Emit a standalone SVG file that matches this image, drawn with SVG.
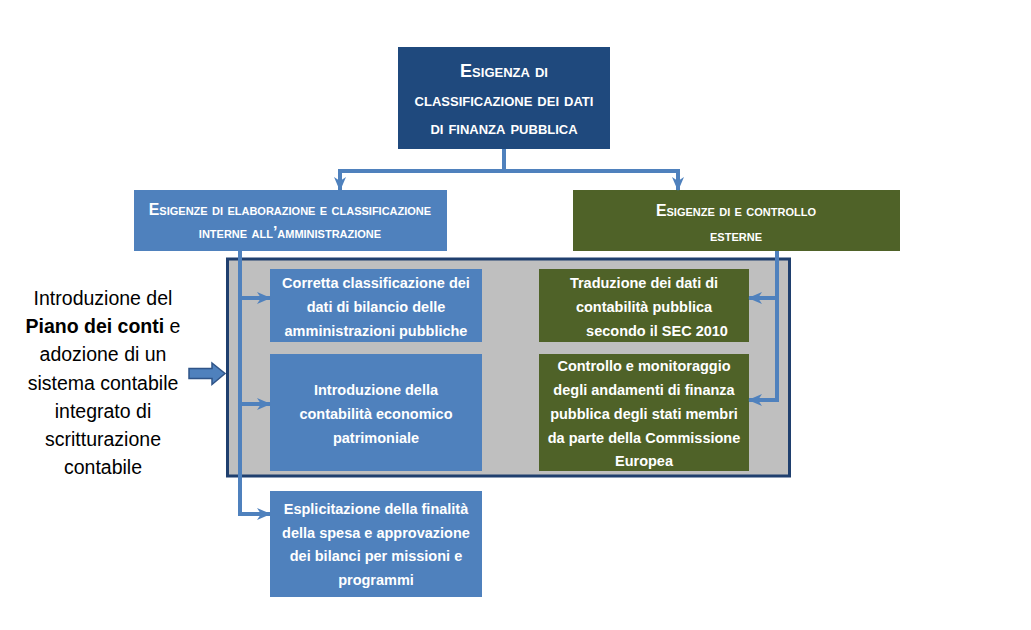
<svg xmlns="http://www.w3.org/2000/svg" width="1031" height="630" viewBox="0 0 1031 630">
<style>
.b{font-family:"Liberation Sans",Arial,sans-serif;font-weight:bold;fill:#fff;text-anchor:middle}
.sc{font-variant:small-caps}
.t{font-size:14.5px}
.lt{font-family:"Liberation Sans",Arial,sans-serif;font-size:19.5px;fill:#000;text-anchor:middle}
.c{fill:none;stroke:#4F81BD;stroke-width:4}
.blue{fill:#4F81BD}
.green{fill:#4F6228}
</style>
<defs>
<marker id="ah" markerUnits="userSpaceOnUse" markerWidth="14" markerHeight="14" viewBox="0 0 14 14" refX="13" refY="7" orient="auto">
<path d="M0,1 L14,7 L0,13 L4,7 z" fill="#4F81BD"/>
</marker>
</defs>
<rect width="1031" height="630" fill="#fff"/>

<g id="container">
<rect x="227.5" y="259" width="562" height="217" fill="#BFBFBF" stroke="#1F3F6E" stroke-width="3"/>
</g>

<g id="top">
<rect x="398" y="47" width="212" height="102" fill="#1F497D"/>
<text class="b sc" font-size="18" x="504" y="77">Esigenza di</text>
<text class="b sc" font-size="18" x="504" y="106">classificazione dei dati</text>
<text class="b sc" font-size="18" x="504" y="134">di finanza pubblica</text>
</g>

<g id="left-head">
<rect x="134" y="190" width="313" height="61" class="blue"/>
<text class="b sc" font-size="15.8" x="290" y="215">Esigenze di elaborazione e classificazione</text>
<text class="b sc" font-size="15.8" x="290" y="238">interne all’amministrazione</text>
</g>

<g id="right-head">
<rect x="573" y="190" width="327" height="61" class="green"/>
<text class="b sc" font-size="15.8" x="736" y="216">Esigenze di e controllo</text>
<text class="b sc" font-size="15.8" x="736" y="241">esterne</text>
</g>

<g id="box1">
<rect x="270" y="269" width="212" height="73" class="blue"/>
<text class="b t" x="376" y="288">Corretta classificazione dei</text>
<text class="b t" x="376" y="312">dati di bilancio delle</text>
<text class="b t" x="376" y="336">amministrazioni pubbliche</text>
</g>

<g id="box2">
<rect x="270" y="354" width="212" height="117" class="blue"/>
<text class="b t" x="376" y="395">Introduzione della</text>
<text class="b t" x="376" y="419">contabilità economico</text>
<text class="b t" x="376" y="443">patrimoniale</text>
</g>

<g id="box3">
<rect x="270" y="491" width="212" height="106" class="blue"/>
<text class="b t" x="376" y="514">Esplicitazione della finalità</text>
<text class="b t" x="376" y="538">della spesa e approvazione</text>
<text class="b t" x="376" y="561">dei bilanci per missioni e</text>
<text class="b t" x="376" y="585">programmi</text>
</g>

<g id="box4">
<rect x="539" y="269" width="210" height="73" class="green"/>
<text class="b t" x="644" y="288">Traduzione dei dati di</text>
<text class="b t" x="644" y="312">contabilità pubblica</text>
<text class="b t" x="657" y="336">secondo il SEC 2010</text>
</g>

<g id="box5">
<rect x="539" y="354" width="210" height="117" class="green"/>
<text class="b t" x="644" y="371">Controllo e monitoraggio</text>
<text class="b t" x="644" y="395">degli andamenti di finanza</text>
<text class="b t" x="644" y="419">pubblica degli stati membri</text>
<text class="b t" x="644" y="443">da parte della Commissione</text>
<text class="b t" x="644" y="466">Europea</text>
</g>

<g id="intro">
<text class="lt" x="103" y="305">Introduzione del</text>
<text class="lt" x="103" y="333"><tspan font-weight="bold">Piano dei conti</tspan> e</text>
<text class="lt" x="103" y="361">adozione di un</text>
<text class="lt" x="103" y="390">sistema contabile</text>
<text class="lt" x="103" y="418">integrato di</text>
<text class="lt" x="103" y="446">scritturazione</text>
<text class="lt" x="103" y="474">contabile</text>
</g>

<g id="block-arrow">
<path d="M189,368.5 L212,368.5 L212,363 L225,373.5 L212,384.5 L212,378.5 L189,378.5 z" fill="#4F81BD" stroke="#2F5488" stroke-width="1.5"/>
</g>

<g id="connectors">
<path class="c" d="M504,149 L504,171"/>
<path class="c" d="M340,171 L678,171"/>
<path class="c" d="M340,169 L340,190" marker-end="url(#ah)"/>
<path class="c" d="M678,169 L678,190" marker-end="url(#ah)"/>
<path class="c" d="M240,251 L240,514 L270,514" marker-end="url(#ah)"/>
<path class="c" d="M240,298 L270,298" marker-end="url(#ah)"/>
<path class="c" d="M240,404 L270,404" marker-end="url(#ah)"/>
<path class="c" d="M777,251 L777,400 L749,400" marker-end="url(#ah)"/>
<path class="c" d="M777,298 L749,298" marker-end="url(#ah)"/>
</g>
</svg>
